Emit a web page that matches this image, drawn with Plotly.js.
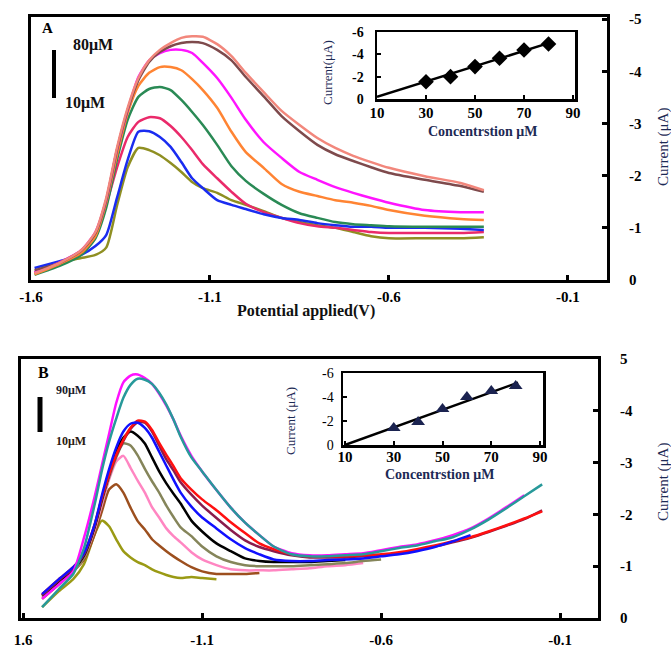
<!DOCTYPE html>
<html><head><meta charset="utf-8">
<script src="https://cdn.plot.ly/plotly-3.0.1.min.js"></script>
<style>html,body{margin:0;padding:0;background:#fff}#chart{width:671px;height:648px}</style>
</head><body><div id="chart"></div>
<script>
// ---------- Panel A: DPV curves (potential V, current uA) ----------
const vA = [-1.59,-1.52,-1.46,-1.42,-1.39,-1.36,-1.33,-1.30,-1.27,-1.24,-1.21,-1.18,-1.15,-1.12,-1.08,-1.04,-1.00,-0.95,-0.90,-0.85,-0.80,-0.75,-0.70,-0.65,-0.60,-0.50,-0.40,-0.335];
const aOlive   = [-0.15,-0.34,-0.42,-0.48,-0.62,-1.42,-2.16,-2.53,-2.49,-2.39,-2.24,-2.07,-1.88,-1.76,-1.67,-1.53,-1.44,-1.32,-1.19,-1.11,-1.05,-1.00,-0.92,-0.84,-0.80,-0.80,-0.80,-0.82];
const aBlue    = [-0.23,-0.36,-0.48,-0.65,-0.86,-1.57,-2.30,-2.84,-2.85,-2.74,-2.55,-2.26,-1.95,-1.76,-1.53,-1.44,-1.36,-1.26,-1.19,-1.15,-1.09,-1.05,-1.02,-1.02,-1.00,-1.00,-0.98,-0.96];
const aCrimson = [-0.13,-0.29,-0.50,-0.86,-1.44,-2.15,-2.74,-3.03,-3.12,-3.10,-2.95,-2.74,-2.49,-2.22,-1.95,-1.69,-1.46,-1.30,-1.19,-1.09,-1.03,-1.00,-0.96,-0.92,-0.90,-0.90,-0.90,-0.92];
const aGreen   = [-0.10,-0.27,-0.48,-0.80,-1.38,-2.30,-3.07,-3.51,-3.66,-3.70,-3.64,-3.45,-3.22,-2.97,-2.59,-2.18,-1.90,-1.65,-1.44,-1.28,-1.19,-1.11,-1.07,-1.05,-1.03,-1.02,-1.02,-1.02];
const aOrange  = [-0.11,-0.31,-0.52,-0.84,-1.48,-2.39,-3.20,-3.72,-3.97,-4.08,-4.08,-4.02,-3.85,-3.64,-3.30,-2.84,-2.45,-2.15,-1.84,-1.69,-1.61,-1.53,-1.48,-1.42,-1.34,-1.23,-1.17,-1.15];
const aMagenta = [-0.15,-0.34,-0.57,-0.92,-1.53,-2.49,-3.26,-3.89,-4.21,-4.35,-4.41,-4.41,-4.35,-4.16,-3.87,-3.49,-3.07,-2.64,-2.34,-2.07,-1.92,-1.78,-1.67,-1.57,-1.48,-1.34,-1.30,-1.30];
const aBrown   = [-0.19,-0.33,-0.56,-0.90,-1.53,-2.49,-3.26,-3.83,-4.18,-4.37,-4.48,-4.54,-4.56,-4.54,-4.41,-4.21,-3.89,-3.52,-3.14,-2.85,-2.59,-2.41,-2.28,-2.16,-2.05,-1.92,-1.80,-1.69];
const aSalmon  = [-0.13,-0.33,-0.57,-0.92,-1.57,-2.53,-3.30,-3.87,-4.21,-4.41,-4.54,-4.64,-4.67,-4.66,-4.52,-4.29,-3.97,-3.60,-3.24,-2.97,-2.72,-2.53,-2.38,-2.26,-2.15,-1.99,-1.86,-1.72];

// Panel A inset (concentration uM vs peak current uA)
const concA = [30,40,50,60,70,80];
const peakA = [-1.55,-2.0,-2.9,-3.65,-4.39,-4.92];
const fitConcA = [10,80];
const fitPeakA = [-0.2,-5.0];

// ---------- Panel B ----------
const vB = [-1.547,-1.50,-1.46,-1.43,-1.40,-1.38,-1.36,-1.34,-1.32,-1.30,-1.28,-1.26,-1.24,-1.22,-1.20,-1.18,-1.16,-1.13,-1.10,-1.06,-1.02,-0.98,-0.94,-0.90,-0.85,-0.80,-0.75,-0.70,-0.65,-0.60,-0.55,-0.50,-0.45,-0.40,-0.35,-0.30,-0.25,-0.20,-0.15];
const bOlive   = [-0.21,-0.52,-0.75,-1.04,-1.62,-1.88,-1.77,-1.52,-1.29,-1.17,-1.08,-1.02,-0.94,-0.88,-0.83,-0.79,-0.77,-0.79,-0.77,-0.75];
const bBrown   = [-0.37,-0.65,-0.90,-1.13,-1.62,-2.06,-2.48,-2.58,-2.42,-2.13,-1.87,-1.71,-1.52,-1.40,-1.29,-1.19,-1.10,-0.98,-0.90,-0.85,-0.85,-0.85,-0.87];
const bPink    = [-0.40,-0.67,-0.90,-1.17,-1.71,-2.19,-2.67,-3.02,-3.13,-2.90,-2.65,-2.42,-2.14,-1.94,-1.73,-1.58,-1.46,-1.27,-1.13,-1.02,-0.94,-0.92,-0.92,-0.92,-0.94,-0.96,-1.00,-1.02,-1.06];
const bKhaki   = [-0.42,-0.67,-0.90,-1.17,-1.75,-2.25,-2.71,-3.10,-3.37,-3.33,-3.14,-2.88,-2.64,-2.42,-2.17,-1.95,-1.75,-1.58,-1.38,-1.19,-1.08,-1.02,-1.00,-1.00,-1.00,-1.02,-1.04,-1.06,-1.10,-1.13];
const bBlack   = [-0.44,-0.71,-0.94,-1.21,-1.77,-2.29,-2.77,-3.21,-3.48,-3.60,-3.52,-3.37,-3.10,-2.83,-2.60,-2.40,-2.21,-1.88,-1.67,-1.44,-1.29,-1.15,-1.10,-1.08,-1.08,-1.08,-1.10,-1.12];
const bBlue    = [-0.46,-0.75,-0.98,-1.25,-1.81,-2.37,-2.87,-3.29,-3.60,-3.75,-3.77,-3.67,-3.48,-3.21,-2.94,-2.67,-2.42,-2.15,-1.94,-1.73,-1.52,-1.35,-1.23,-1.13,-1.10,-1.10,-1.12,-1.13,-1.15,-1.19,-1.23,-1.29,-1.37,-1.48,-1.60];
const bRed     = [-0.46,-0.75,-0.98,-1.25,-1.81,-2.33,-2.77,-3.15,-3.44,-3.67,-3.81,-3.79,-3.63,-3.38,-3.15,-2.93,-2.70,-2.48,-2.29,-2.08,-1.85,-1.64,-1.44,-1.33,-1.23,-1.19,-1.19,-1.19,-1.21,-1.23,-1.27,-1.33,-1.40,-1.48,-1.56,-1.67,-1.79,-1.92,-2.06];
const bMaroon  = [-0.44,-0.73,-0.96,-1.23,-1.79,-2.31,-2.75,-3.13,-3.42,-3.65,-3.78,-3.77,-3.60,-3.33,-3.06,-2.85,-2.62,-2.38,-2.17,-1.93,-1.70,-1.50,-1.37,-1.29,-1.21,-1.17,-1.17,-1.17,-1.19,-1.21,-1.25,-1.31,-1.38,-1.46,-1.55,-1.66,-1.78,-1.91,-2.08];
const bTeal    = [-0.21,-0.56,-0.85,-1.35,-2.20,-2.85,-3.40,-3.85,-4.25,-4.50,-4.62,-4.60,-4.52,-4.35,-4.12,-3.83,-3.50,-3.10,-2.83,-2.47,-2.13,-1.84,-1.60,-1.38,-1.23,-1.19,-1.19,-1.21,-1.23,-1.29,-1.35,-1.40,-1.48,-1.56,-1.71,-1.90,-2.12,-2.35,-2.58];
const bMagenta = [-0.37,-0.65,-0.90,-1.55,-2.35,-2.95,-3.55,-4.15,-4.55,-4.68,-4.70,-4.63,-4.52,-4.33,-4.10,-3.83,-3.52,-3.13,-2.83,-2.47,-2.13,-1.84,-1.60,-1.38,-1.25,-1.21,-1.21,-1.23,-1.25,-1.31,-1.37,-1.42,-1.50,-1.60,-1.73,-1.92,-2.14,-2.37];

// Panel B inset
const concB = [30,40,50,60,70,80];
const peakB = [-1.42,-1.92,-3.0,-4.0,-4.5,-4.92];
const fitConcB = [10,81];
const fitPeakB = [0,-5.2];

// tick labels
const mainXTicks = [-1.6,-1.1,-0.6,-0.1];
const mainXTextA = ['-1.6','-1.1','-0.6','-0.1'];
const mainXTextB = ['1.6','-1.1','-0.6','-0.1'];
const mainYTicks = [0,-1,-2,-3,-4,-5];
const mainYTextA = ['0','-1','-2','-3','-4','-5'];
const mainYTextB = ['0','-1','-2','-3','-4','5'];
const insetXTicks = [10,30,50,70,90];
const insetYTicks = [0,-2,-4,-6];
const insetYText = ['0','-2','-4','-6'];

// ---------- build ----------
const W = 671, H = 648;
const fx = p => p / W, fy = p => 1 - p / H;
const SERIF = 'Liberation Serif, Times New Roman, serif';
const NAVY = '#1d2a55';

function curve(x, y, color, xa, ya) {
  return {x: x.slice(0, y.length), y: y, type: 'scatter', mode: 'lines',
    line: {color: color, width: 2.5, shape: 'spline', smoothing: 0.6},
    xaxis: xa, yaxis: ya, hoverinfo: 'skip'};
}

const traces = [
  curve(vA, aOlive, '#8f8f22', 'x', 'y'),
  curve(vA, aCrimson, '#ea2a6a', 'x', 'y'),
  curve(vA, aBlue, '#1a2cf0', 'x', 'y'),
  curve(vA, aGreen, '#2a8a55', 'x', 'y'),
  curve(vA, aOrange, '#ff8433', 'x', 'y'),
  curve(vA, aMagenta, '#ff14ff', 'x', 'y'),
  curve(vA, aBrown, '#7e4a4c', 'x', 'y'),
  curve(vA, aSalmon, '#f2877c', 'x', 'y'),
  {x: fitConcA, y: fitPeakA, type: 'scatter', mode: 'lines', line: {color: '#000', width: 2.5}, xaxis: 'x2', yaxis: 'y2'},
  {x: concA, y: peakA, type: 'scatter', mode: 'markers', marker: {symbol: 'diamond', size: 12, color: '#000'}, xaxis: 'x2', yaxis: 'y2'},

  curve(vB, bOlive, '#9a9a14', 'x3', 'y3'),
  curve(vB, bBrown, '#9c4f1e', 'x3', 'y3'),
  curve(vB, bPink, '#ff86c2', 'x3', 'y3'),
  curve(vB, bKhaki, '#85855a', 'x3', 'y3'),
  curve(vB, bBlack, '#000000', 'x3', 'y3'),
  curve(vB, bMaroon, '#8a1c4c', 'x3', 'y3'),
  curve(vB, bRed, '#ff1010', 'x3', 'y3'),
  curve(vB, bBlue, '#1010ff', 'x3', 'y3'),
  curve(vB, bMagenta, '#ff10ff', 'x3', 'y3'),
  curve(vB, bTeal, '#27999a', 'x3', 'y3'),
  {x: fitConcB, y: fitPeakB, type: 'scatter', mode: 'lines', line: {color: '#000', width: 2.5}, xaxis: 'x4', yaxis: 'y4'},
  {x: concB, y: peakB, type: 'scatter', mode: 'markers', marker: {symbol: 'triangle-up', size: 12, color: '#1b2350'}, xaxis: 'x4', yaxis: 'y4'}
];

const boldTick = s => ({family: SERIF, size: s, color: '#000', weight: 'bold'});
function frameAxis(extra) {
  return Object.assign({showline: true, mirror: true, linecolor: '#000', showgrid: false, zeroline: false,
    ticks: 'inside', tickcolor: '#000', fixedrange: true, automargin: false}, extra);
}

const layout = {
  width: W, height: H, margin: {l: 0, r: 0, t: 0, b: 0},
  paper_bgcolor: '#fff', plot_bgcolor: 'rgba(0,0,0,0)', showlegend: false,
  xaxis: frameAxis({domain: [fx(31), fx(607)], anchor: 'y', range: [-1.6, 0.009], tickvals: mainXTicks, ticktext: mainXTextA,
    ticklen: 5, tickwidth: 3, linewidth: 3, tickfont: boldTick(15), ticklabelstandoff: 1}),
  yaxis: frameAxis({domain: [fy(280), fy(17)], anchor: 'x', side: 'right', range: [0, -5.04], tickvals: mainYTicks, ticktext: mainYTextA,
    ticklen: 5, tickwidth: 3, linewidth: 3, tickfont: boldTick(15), ticklabelstandoff: 16}),
  xaxis2: frameAxis({domain: [fx(377), fx(575)], anchor: 'y2', range: [10, 90.8], tickvals: insetXTicks,
    ticklen: 4, tickwidth: 2, linewidth: 2.5, tickfont: boldTick(15), ticklabelstandoff: -2}),
  yaxis2: frameAxis({domain: [fy(99), fy(32)], anchor: 'x2', range: [0, -6], tickvals: insetYTicks, ticktext: insetYText,
    ticklen: 4, tickwidth: 2, linewidth: 2.5, tickfont: boldTick(14), ticklabelstandoff: 8}),
  xaxis3: frameAxis({domain: [fx(21), fx(598)], anchor: 'y3', range: [-1.606, 0.006], tickvals: mainXTicks, ticktext: mainXTextB,
    ticklen: 5, tickwidth: 3, linewidth: 3, tickfont: boldTick(15), ticklabelstandoff: 6}),
  yaxis3: frameAxis({domain: [fy(618), fy(359)], anchor: 'x3', side: 'right', range: [0, -5], tickvals: mainYTicks, ticktext: mainYTextB,
    ticklen: 5, tickwidth: 3, linewidth: 3, tickfont: boldTick(15), ticklabelstandoff: 16}),
  xaxis4: frameAxis({domain: [fx(343), fx(543)], anchor: 'y4', range: [9.2, 91.2], tickvals: insetXTicks,
    ticklen: 4, tickwidth: 2, linewidth: 2.5, tickfont: boldTick(15), ticklabelstandoff: -4}),
  yaxis4: frameAxis({domain: [fy(445), fy(373)], anchor: 'x4', range: [0, -6], tickvals: insetYTicks, ticktext: insetYText,
    ticklen: 4, tickwidth: 2, linewidth: 2.5, tickfont: {family: SERIF, size: 14, color: '#000'}, ticklabelstandoff: 4}),
  shapes: [
    {type: 'line', xref: 'paper', yref: 'paper', x0: fx(54), x1: fx(54), y0: fy(50), y1: fy(98), line: {color: '#000', width: 4}},
    {type: 'line', xref: 'paper', yref: 'paper', x0: fx(40), x1: fx(40), y0: fy(397), y1: fy(432), line: {color: '#000', width: 5}}
  ],
  annotations: [
    {text: 'A', x: fx(47), y: fy(28), font: {family: SERIF, size: 15, color: '#000', weight: 'bold'}},
    {text: '80μM', x: fx(93), y: fy(45), font: {family: SERIF, size: 16, color: '#111', weight: 'bold'}},
    {text: '10μM', x: fx(85), y: fy(103), font: {family: SERIF, size: 16, color: '#111', weight: 'bold'}},
    {text: 'Potential applied(V)', x: fx(306), y: fy(311), font: {family: SERIF, size: 16, color: '#111', weight: 'bold'}},
    {text: 'Current (μA)', x: fx(663), y: fy(147), textangle: -90, font: {family: SERIF, size: 15, color: NAVY}},
    {text: 'Concentrstion μM', x: fx(482), y: fy(131), font: {family: SERIF, size: 14, color: NAVY, weight: 'bold'}},
    {text: 'Current(μA)', x: fx(328), y: fy(73), textangle: -90, font: {family: SERIF, size: 13, color: NAVY}},
    {text: 'B', x: fx(43), y: fy(372), font: {family: SERIF, size: 16, color: '#000', weight: 'bold'}},
    {text: '90μM', x: fx(71), y: fy(390), font: {family: SERIF, size: 12, color: '#1a1a2a', weight: 'bold'}},
    {text: '10μM', x: fx(71), y: fy(441), font: {family: SERIF, size: 12, color: '#2a1a10', weight: 'bold'}},
    {text: 'Current (μA)', x: fx(663), y: fy(482), textangle: -90, font: {family: SERIF, size: 15, color: NAVY}},
    {text: 'Concentrstion μM', x: fx(439), y: fy(474), font: {family: SERIF, size: 14, color: NAVY, weight: 'bold'}},
    {text: 'Current (μA)', x: fx(290), y: fy(421), textangle: -90, font: {family: SERIF, size: 13, color: NAVY}}
  ].map(a => Object.assign({xref: 'paper', yref: 'paper', showarrow: false, xanchor: 'center', yanchor: 'middle'}, a))
};

Plotly.newPlot('chart', traces, layout, {staticPlot: true, displayModeBar: false});
</script>
</body></html>
